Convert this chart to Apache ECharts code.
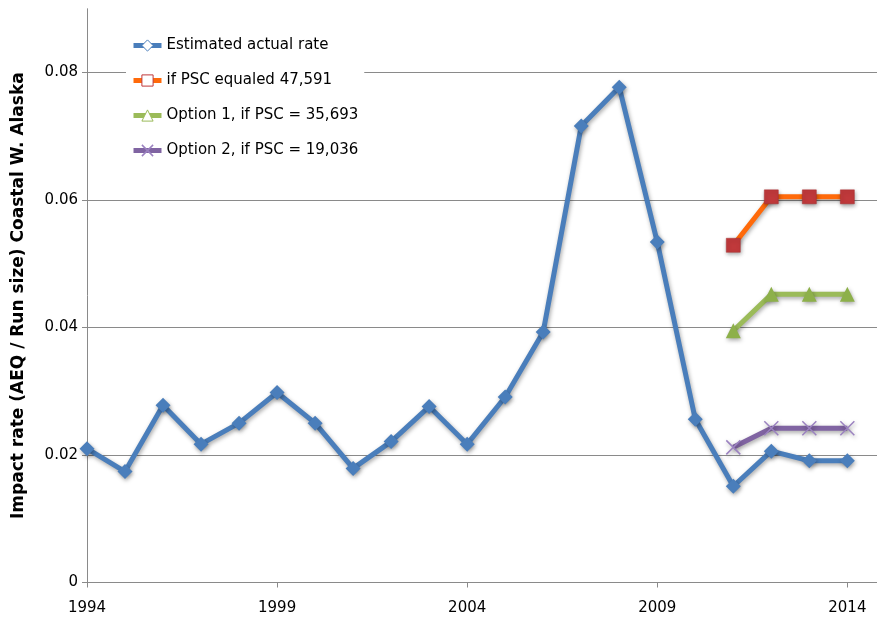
<!DOCTYPE html>
<html>
<head>
<meta charset="utf-8">
<script src="https://cdn.jsdelivr.net/npm/echarts@6/dist/echarts.min.js"></script>
<style>
  html, body { margin: 0; padding: 0; background: #fff; }
  #chart { width: 877px; height: 617px; }
</style>
</head>
<body>
<div id="chart"></div>
<script>
// Impact rate series, by run year
const years = [1994, 1995, 1996, 1997, 1998, 1999, 2000, 2001, 2002, 2003, 2004,
               2005, 2006, 2007, 2008, 2009, 2010, 2011, 2012, 2013, 2014];
const estimatedRate = [0.0210, 0.0174, 0.0278, 0.0217, 0.0250, 0.0298, 0.0250, 0.0179, 0.0221, 0.0276, 0.0217,
                       0.0291, 0.0393, 0.0716, 0.0777, 0.0534, 0.0256, 0.0151, 0.0206, 0.0191, 0.0191];

const scenarioYears = [2011, 2012, 2013, 2014];
const pscEqualed = [0.0529, 0.0605, 0.0605, 0.0605];
const option1 = [0.0395, 0.0452, 0.0452, 0.0452];
const option2 = [0.0212, 0.0242, 0.0242, 0.0242];

const seriesNames = [
  'Estimated actual rate',
  'if PSC equaled 47,591',
  'Option 1, if PSC = 35,693',
  'Option 2, if PSC = 19,036'
];

const xTicks = [1994, 1999, 2004, 2009, 2014];
const yTicks = [0, 0.02, 0.04, 0.06, 0.08];

const pairs = (xs, ys) => xs.map((x, i) => [x, ys[i]]);

const axisGray = '#8a8a8a';
const font = 'DejaVu Sans';
const shadow = { shadowColor: 'rgba(0,0,0,0.35)', shadowBlur: 4, shadowOffsetX: 1, shadowOffsetY: 2 };
const crossPath = 'path://M0,0 L10,10 M10,0 L0,10';

const colors = {
  blue: '#4a7ebb',
  orange: '#ff6a0a',
  red: '#c0393b',
  green: '#9bbb59',
  purple: '#8064a2',
  lilac: '#9b82c0'
};

const chart = echarts.init(document.getElementById('chart'), null, { renderer: 'canvas' });

chart.setOption({
  animation: false,
  backgroundColor: '#fff',
  textStyle: { fontFamily: font },
  grid: { left: 87, right: 0, top: 8.75, bottom: 34.5, containLabel: false },
  legend: {
    orient: 'vertical',
    left: 126,
    top: 32,
    padding: [6, 6, 6, 5],
    backgroundColor: '#fff',
    itemWidth: 28,
    itemHeight: 14,
    itemGap: 20,
    textStyle: { fontFamily: font, fontSize: 15, color: '#000' },
    data: [
      { name: seriesNames[0], lineStyle: { width: 5, shadowBlur: 0 }, itemStyle: { color: '#fff', borderColor: colors.blue, borderWidth: 1, shadowBlur: 0 } },
      { name: seriesNames[1], lineStyle: { width: 5, shadowBlur: 0 }, itemStyle: { color: '#fff', borderColor: colors.red, borderWidth: 1, shadowBlur: 0 } },
      { name: seriesNames[2], lineStyle: { width: 5, shadowBlur: 0 }, itemStyle: { color: '#fff', borderColor: colors.green, borderWidth: 1, shadowBlur: 0 } },
      { name: seriesNames[3], lineStyle: { width: 5, shadowBlur: 0 }, itemStyle: { color: 'transparent', borderColor: colors.lilac, borderWidth: 1.5, shadowBlur: 0 } }
    ]
  },
  xAxis: {
    type: 'value',
    min: 1994,
    max: 2014.78,
    interval: 5,
    axisLine: { show: true, lineStyle: { color: axisGray, width: 1 } },
    axisTick: { show: true, length: 5, lineStyle: { color: axisGray }, customValues: xTicks },
    axisLabel: {
      customValues: xTicks,
      fontFamily: font, fontSize: 15, color: '#000', margin: 18,
      formatter: v => String(v)
    },
    splitLine: { show: false }
  },
  yAxis: {
    type: 'value',
    min: 0,
    max: 0.09,
    interval: 0.02,
    name: 'Impact rate (AEQ / Run size) Coastal W. Alaska',
    nameLocation: 'middle',
    nameRotate: 90,
    nameGap: 60,
    nameTextStyle: { fontFamily: font, fontSize: 17, fontWeight: 'bold', color: '#000' },
    axisLine: { show: true, lineStyle: { color: axisGray, width: 1 } },
    axisTick: { show: true, length: 5, lineStyle: { color: axisGray }, customValues: yTicks },
    axisLabel: {
      customValues: yTicks,
      fontFamily: font, fontSize: 15, color: '#000', margin: 9,
      formatter: v => (v === 0 ? '0' : v.toFixed(2))
    },
    splitLine: { show: true, showMinLine: false, lineStyle: { color: axisGray, width: 1 } }
  },
  series: [
    {
      name: seriesNames[0],
      type: 'line',
      data: pairs(years, estimatedRate),
      symbol: 'diamond',
      symbolSize: 15,
      z: 5,
      lineStyle: Object.assign({ color: colors.blue, width: 5 }, shadow),
      itemStyle: Object.assign({ color: colors.blue }, shadow)
    },
    {
      name: seriesNames[1],
      type: 'line',
      data: pairs(scenarioYears, pscEqualed),
      symbol: 'rect',
      symbolSize: 14,
      lineStyle: Object.assign({ color: colors.orange, width: 5 }, shadow),
      itemStyle: Object.assign({ color: colors.red, borderColor: '#a83032', borderWidth: 0.5 }, shadow)
    },
    {
      name: seriesNames[2],
      type: 'line',
      data: pairs(scenarioYears, option1),
      symbol: 'triangle',
      symbolSize: 15,
      lineStyle: Object.assign({ color: colors.green, width: 5 }, shadow),
      itemStyle: Object.assign({ color: '#8db04a' }, shadow)
    },
    {
      name: seriesNames[3],
      type: 'line',
      data: pairs(scenarioYears, option2),
      symbol: crossPath,
      symbolSize: 14,
      lineStyle: Object.assign({ color: colors.purple, width: 5 }, shadow),
      itemStyle: Object.assign({ color: 'transparent', borderColor: colors.lilac, borderWidth: 1.5 }, shadow)
    }
  ]
});
</script>
</body>
</html>
